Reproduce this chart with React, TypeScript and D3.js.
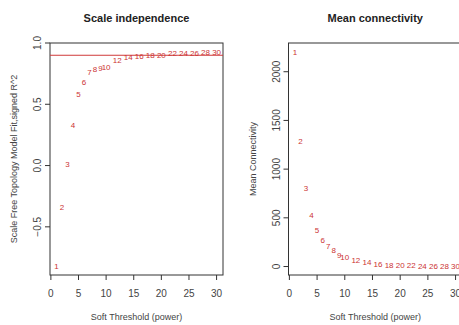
import React from 'react';
import * as d3 from 'd3';

const powers = [1, 2, 3, 4, 5, 6, 7, 8, 9, 10, 12, 14, 16, 18, 20, 22, 24, 26, 28, 30];
const fitR2 = [-0.825, -0.343, 0.008, 0.333, 0.583, 0.678, 0.763, 0.79, 0.796, 0.8,
    0.862, 0.885, 0.896, 0.9, 0.9, 0.918, 0.92, 0.92, 0.925, 0.925];
const meanK = [2205, 1282, 804, 530, 376, 267, 205, 164, 120, 92,
    69, 41, 28, 17, 14, 10, 8, 6, 5, 4];
const xTicks = [0, 5, 10, 15, 20, 25, 30];
const fitTicks = [-0.5, 0.0, 0.5, 1.0];
const kTicks = [0, 500, 1000, 1500, 2000];
const cutoff = 0.9;

const font = 'Liberation Sans, Arial, sans-serif';
const axisCol = '#444';
const red = '#cc3333';

const Panel = ({ left, right, xDomain, yDomain, yTicks, yFmt, values, title, ylab, cutLine }) => {
    const top = 43;
    const bottom = 275;
    const x = d3.scaleLinear().domain(xDomain).range([left, right]);
    const y = d3.scaleLinear().domain(yDomain).range([bottom, top]);
    const cx = (left + right) / 2;
    const cy = (top + bottom) / 2;
    return (
        <g fontFamily={font}>
            <text x={cx} y={22} textAnchor="middle" fontSize={11} fontWeight="bold" fill="#222">{title}</text>
            <rect x={left} y={top} width={right - left} height={bottom - top} fill="none" stroke="#333" strokeWidth={1} />
            {xTicks.map(t => (
                <g key={t}>
                    <line x1={x(t)} x2={x(t)} y1={bottom} y2={bottom + 5} stroke="#333" />
                    <text x={x(t)} y={297} textAnchor="middle" fontSize={10} fill={axisCol}>{t}</text>
                </g>
            ))}
            {yTicks.map(t => (
                <g key={t}>
                    <line x1={left - 5} x2={left} y1={y(t)} y2={y(t)} stroke="#333" />
                    <text transform={`translate(${left - 9},${y(t)}) rotate(-90)`} textAnchor="middle" fontSize={10} fill={axisCol}>{yFmt(t)}</text>
                </g>
            ))}
            <text x={cx} y={320} textAnchor="middle" fontSize={9} fill={axisCol}>Soft Threshold (power)</text>
            <text transform={`translate(${left - 33},${cy}) rotate(-90)`} textAnchor="middle" fontSize={9} fill={axisCol}>{ylab}</text>
            {cutLine != null && (
                <line x1={left} x2={right} y1={y(cutLine)} y2={y(cutLine)} stroke="#d03a3a" strokeWidth={1} />
            )}
            {powers.map((p, i) => (
                <text key={p} x={x(p)} y={y(values[i])} dy="0.35em" textAnchor="middle" fontSize={8} fill={red}>{p}</text>
            ))}
        </g>
    );
};

export default function App() {
    return (
        <svg width={459} height={325} style={{ position: 'absolute', left: 0, top: 0, background: '#fff' }}>
            <rect width={459} height={325} fill="#fff" />
            <Panel
                left={50}
                right={223}
                xDomain={[-0.16, 31.16]}
                yDomain={[-0.893, 1.0]}
                yTicks={fitTicks}
                yFmt={d3.format('.1f')}
                values={fitR2}
                title="Scale independence"
                ylab="Scale Free Topology Model Fit,signed R^2"
                cutLine={cutoff}
            />
            <Panel
                left={288.5}
                right={462}
                xDomain={[-0.16, 31.16]}
                yDomain={[-87, 2295]}
                yTicks={kTicks}
                yFmt={d3.format('d')}
                values={meanK}
                title="Mean connectivity"
                ylab="Mean Connectivity"
                cutLine={null}
            />
        </svg>
    );
}
